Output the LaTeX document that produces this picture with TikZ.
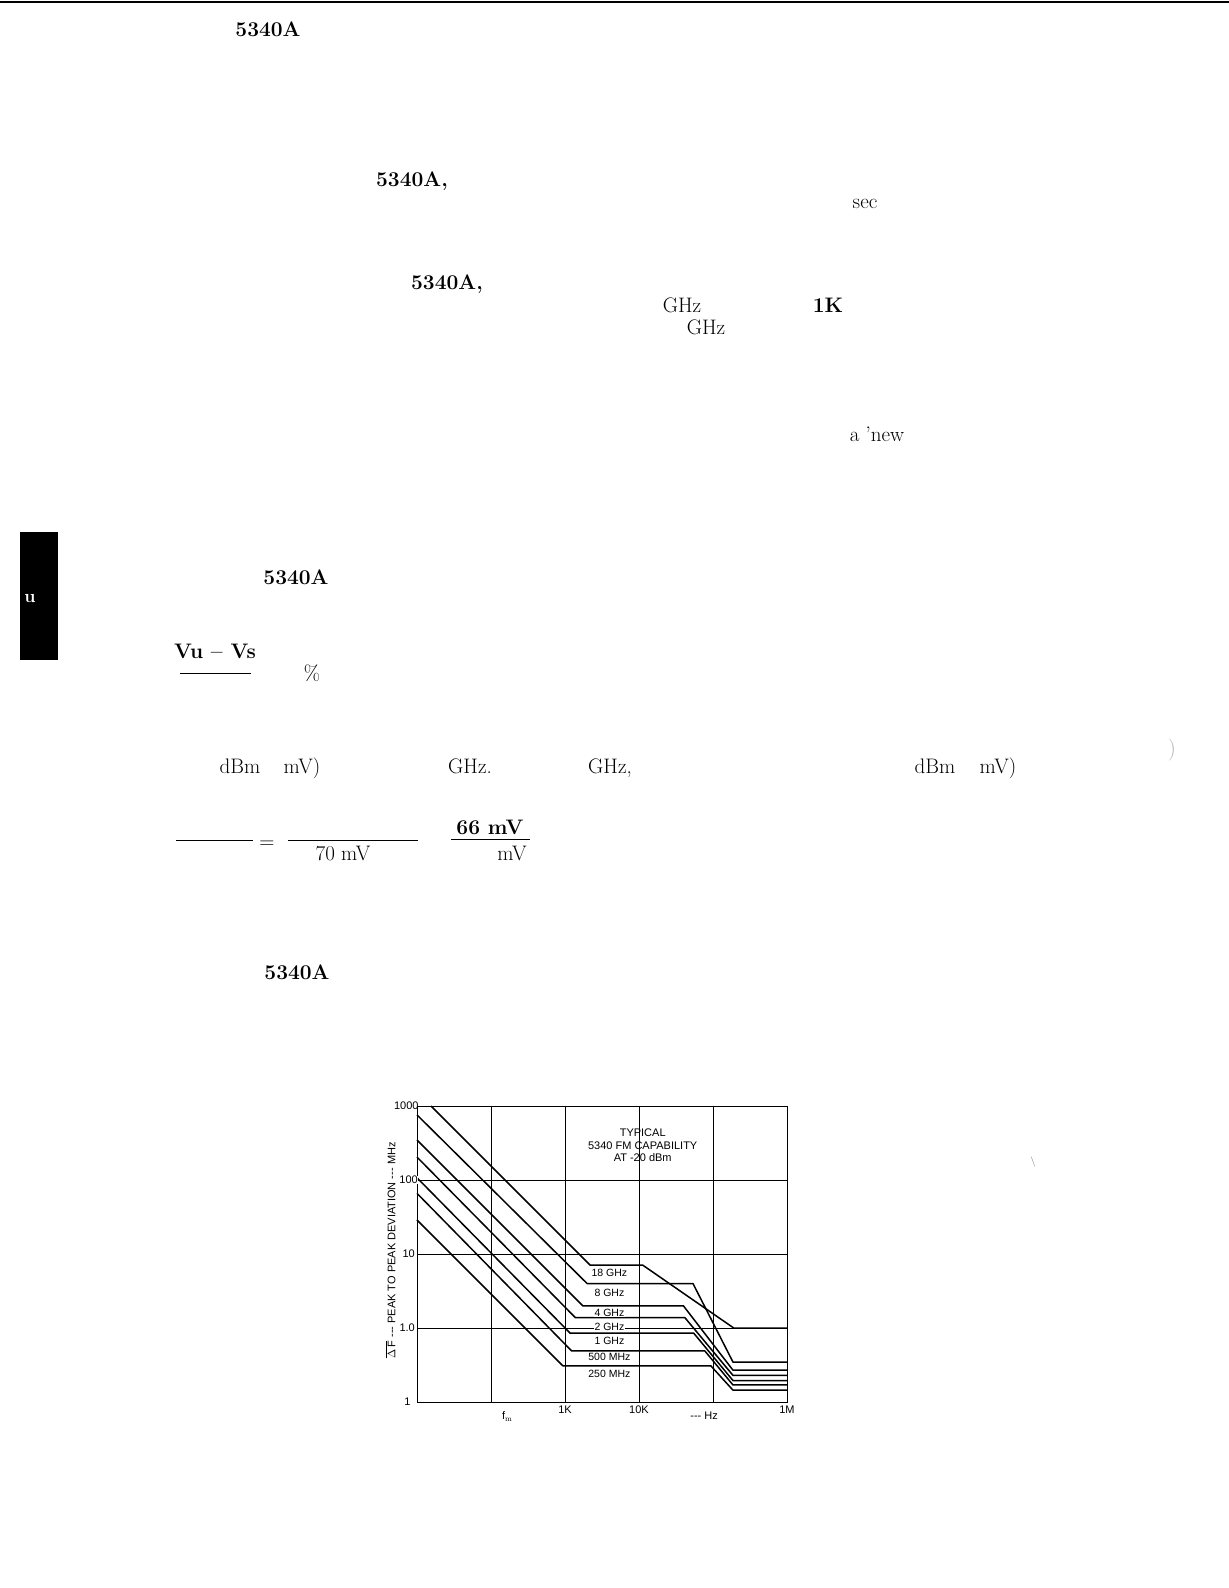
\documentclass[tikz,border=0pt]{standalone}
\usepackage{fontspec}
\newfontfamily\chartfont{Liberation Sans}
\begin{document}
\begin{tikzpicture}[x=1pt,y=-1pt,
  body/.style={font=\fontsize{21}{24}\selectfont,inner sep=0pt,anchor=base},
  bbody/.style={font=\fontsize{21}{24}\selectfont\bfseries,inner sep=0pt,anchor=base},
  ctext/.style={font=\chartfont\fontsize{11}{12.5}\selectfont,inner sep=0.5pt},
  clab/.style={font=\chartfont\fontsize{10.5}{11}\selectfont,inner sep=1pt,fill=white},
  grid line/.style={line width=0.9pt},
  curve/.style={line width=1.5pt,line join=round},
  rule/.style={line width=1pt}]
\useasboundingbox (0,0) rectangle (1229,1588);
\fill[white] (0,0) rectangle (1229,1588);
\draw[line width=2.5pt] (0,2) -- (1229,2);
% page text fragments
\node[bbody] (t1) at (268,36) {5340A};
\node[bbody] (t2) at (412,186) {5340A,};
\node[body] (t3) at (865,208) {sec};
\node[bbody] (t4) at (447,289) {5340A,};
\node[body] (t5) at (682,312) {GHz};
\node[bbody] (t6) at (828,312) {1K};
\node[body] (t7) at (706,334) {GHz};
\node[body] (t8) at (877,441) {a 'new};
\fill[black] (20,532) rectangle (58,660);
\node[font=\fontsize{18}{20}\selectfont\bfseries,text=white,inner sep=0pt] (tab) at (30,598) {u};
\node[bbody] (vu) at (215,658) {Vu -- Vs};
\node[bbody] (t9) at (296,584) {5340A};
\draw[rule] (180,673) -- (251,673);
\node[body] (pc) at (312,680) {\%};
\node[body] (d1) at (240,773) {dBm};
\node[body] (d2) at (302,773) {mV)};
\node[body] (d3) at (470,773) {GHz.};
\node[body] (d4) at (610,773) {GHz,};
\node[body] (d5) at (935,773) {dBm};
\node[body] (d6) at (998,773) {mV)};
\node[text=black!30,font=\fontsize{22}{24}\selectfont,inner sep=0pt] (pr) at (1172,750) {)};
\draw[rule] (176,840) -- (253,840);
\node[body] (eq) at (267,848) {=};
\draw[rule] (288,840) -- (418,840);
\node[body] (n70) at (343,860) {70 mV};
\node[bbody] (n66) at (490,834) {66 mV};
\draw[rule] (451,839) -- (530,839);
\node[body] (nmv) at (512,860) {mV};
\node[bbody] (t10) at (297,979) {5340A};
\node[text=black!60,font=\fontsize{10}{11}\selectfont,inner sep=0pt] (mk) at (1033,1162) {\textbackslash};
% chart
\begin{scope}[shift={(417,1402)},x=74pt,y=74pt]
  \foreach \i in {1,2,3,4} \draw[grid line] (\i,0) -- (\i,4);
  \foreach \j in {1,2,3} \draw[grid line] (0,\j) -- (5,\j);
  \draw[grid line] (0,0) rectangle (5,4);
  \draw[curve] (0.19,4) -- (2.34,1.85) -- (3.05,1.85) -- (4.28,1.0) -- (5,1.0);
  \draw[curve] (0,3.88) -- (2.30,1.60) -- (3.73,1.60) -- (4.27,0.54) -- (5,0.54);
  \draw[curve] (0,3.54) -- (2.24,1.30) -- (3.60,1.30) -- (4.27,0.43) -- (5,0.43);
  \draw[curve] (0,3.31) -- (2.14,1.14) -- (3.62,1.14) -- (4.27,0.36) -- (5,0.36);
  \draw[curve] (0,3.03) -- (2.07,0.93) -- (3.74,0.93) -- (4.27,0.29) -- (5,0.29);
  \draw[curve] (0,2.82) -- (2.09,0.69) -- (3.89,0.69) -- (4.27,0.23) -- (5,0.23);
  \draw[curve] (0,2.46) -- (1.97,0.49) -- (3.97,0.49) -- (4.27,0.16) -- (5,0.16);
  \node[clab] (l18) at (2.6,1.75) {18 GHz};
  \node[clab] (l8) at (2.6,1.47) {8 GHz};
  \node[clab] (l4) at (2.6,1.21) {4 GHz};
  \node[clab] (l2) at (2.6,1.02) {2 GHz};
  \node[clab] (l1) at (2.6,0.83) {1 GHz};
  \node[clab] (l500) at (2.6,0.61) {500 MHz};
  \node[clab] (l250) at (2.6,0.38) {250 MHz};
  \node[ctext,align=center] (title) at (3.05,3.47) {TYPICAL\\5340 FM CAPABILITY\\AT -20 dBm};
  \node[ctext,anchor=east] (y1000) at (0.03,4) {1000};
  \node[ctext,anchor=east,fill=white] (y100) at (0.02,3) {100};
  \node[ctext,anchor=east] (y10) at (-0.02,2) {10};
  \node[ctext,anchor=east] (y1p) at (-0.02,1) {1.0};
  \node[ctext,anchor=east] (y1) at (-0.08,0) {1};
  \node[ctext,anchor=north] (x1k) at (2,-0.04) {1K};
  \node[ctext,anchor=north] (x10k) at (3,-0.04) {10K};
  \node[ctext,anchor=north] (x1m) at (5,-0.04) {1M};
  \node[ctext,anchor=north] (fm) at (1.22,-0.12) {f$_{\mathrm m}$};
  \node[ctext,anchor=north] (hz) at (3.88,-0.12) {--- Hz};
  \node[ctext,rotate=90,anchor=south] (ytitle) at (-0.28,2.05) {$\overline{\Delta\,\mbox{F}}$ --- PEAK TO PEAK DEVIATION --- MHz};
\end{scope}
\end{tikzpicture}
\end{document}
